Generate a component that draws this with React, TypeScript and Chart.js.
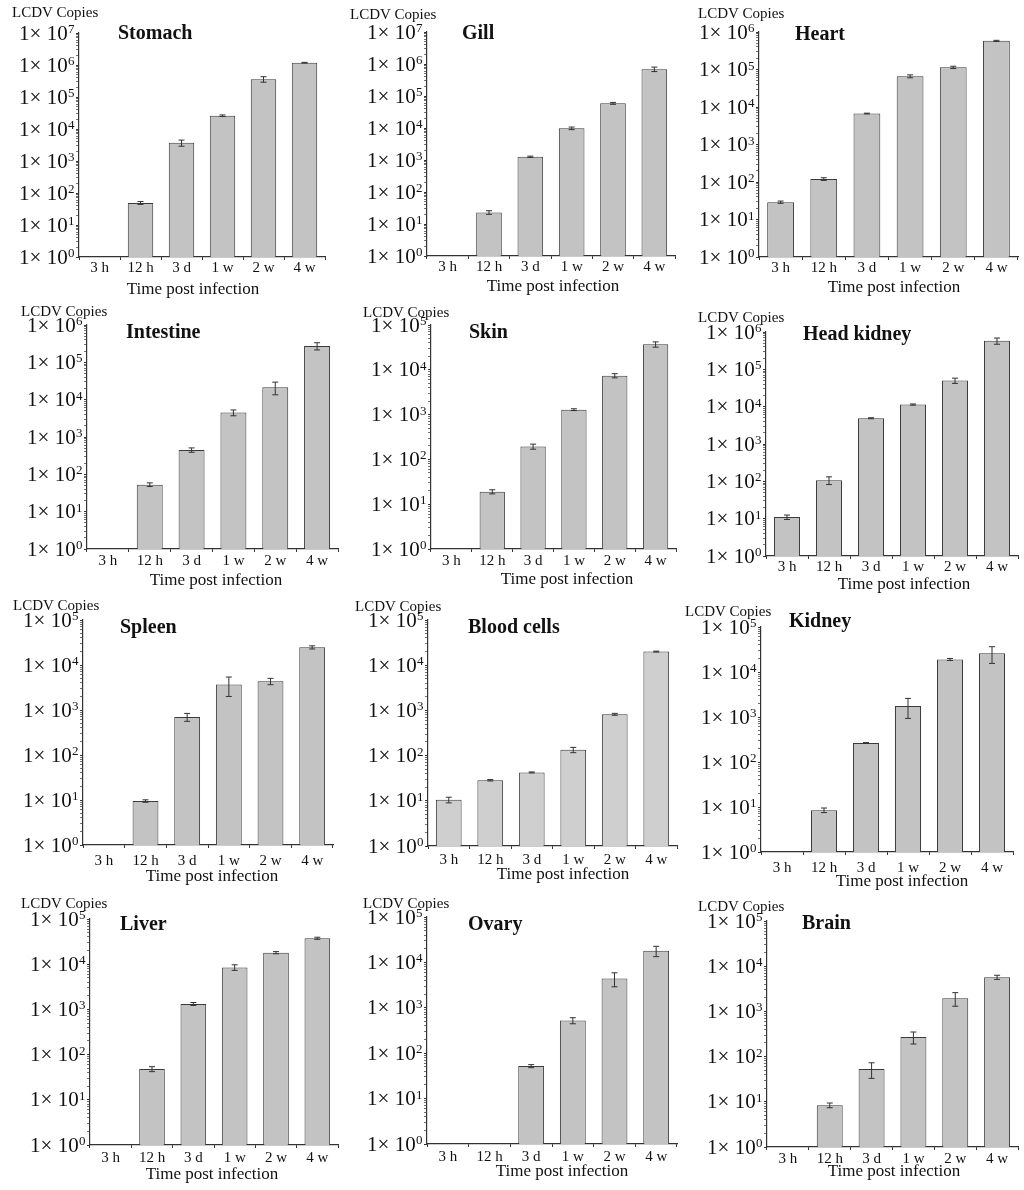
import React, { useEffect, useRef } from 'react';
import { Chart, registerables } from 'chart.js';

Chart.register(...registerables);

// ---------- data ----------
const categories = ['3 h', '12 h', '3 d', '1 w', '2 w', '4 w'];
const tissueNames = ['Stomach', 'Gill', 'Heart', 'Intestine', 'Skin', 'Head kidney', 'Spleen', 'Blood cells', 'Kidney', 'Liver', 'Ovary', 'Brain'];
const yMaxExponents = [7, 7, 6, 6, 5, 6, 5, 5, 5, 5, 5, 5];
const yAxisLabel = 'LCDV Copies';
const xAxisLabel = 'Time post infection';

const stomachMean = [null, 49, 3700, 26000, 360000, 1180000];
const stomachErr = [0, 5, 800, 1500, 70000, 30000];
const gillMean = [null, 23, 1260, 9800, 59000, 690000];
const gillErr = [0, 3, 60, 900, 4000, 110000];
const heartMean = [29, 120, 6700, 66000, 114000, 580000];
const heartErr = [2, 10, 150, 6000, 8000, 20000];
const intestineMean = [null, 53, 450, 4500, 21500, 275000];
const intestineErr = [0, 6, 60, 800, 8000, 60000];
const skinMean = [null, 19, 194, 1290, 7400, 37000];
const skinErr = [0, 2, 25, 60, 800, 5000];
const headKidneyMean = [11, 107, 4900, 11400, 50000, 580000];
const headKidneyErr = [1.5, 25, 150, 400, 8000, 110000];
const spleenMean = [null, 9.5, 700, 3700, 4350, 24700];
const spleenErr = [0, 0.6, 140, 1700, 700, 2000];
const bloodMean = [10.5, 28.5, 42.5, 134, 820, 20000];
const bloodErr = [1.5, 1, 1, 18, 40, 500];
const kidneyMean = [null, 8.5, 265, 1760, 19000, 26000];
const kidneyErr = [0, 1, 5, 830, 1000, 10500];
const liverMean = [null, 48, 1320, 8500, 18000, 37500];
const liverErr = [0, 6, 100, 1200, 1000, 2000];
const ovaryMean = [null, null, 52, 525, 4400, 18000];
const ovaryErr = [0, 0, 4, 80, 1500, 4600];
const brainMean = [null, 8.4, 53, 270, 1950, 5700];
const brainErr = [0, 1, 20, 80, 650, 600];

const means = [stomachMean, gillMean, heartMean, intestineMean, skinMean, headKidneyMean, spleenMean, bloodMean, kidneyMean, liverMean, ovaryMean, brainMean];
const errs = [stomachErr, gillErr, heartErr, intestineErr, skinErr, headKidneyErr, spleenErr, bloodErr, kidneyErr, liverErr, ovaryErr, brainErr];

// ---------- layout & style ----------
const FONT = '"Liberation Serif", "Times New Roman", Times, serif';
const YW = 4;
const XH = 22;

type Layout = {
  box: number[];
  area: number[];
  lcdv: number[];
  title: number[];
  xt: number;
  xx: number[];
  bar: string;
};

const layouts: Layout[] = [
  { box: [0, 0, 340, 298], area: [79, 33, 325, 257], lcdv: [12, 13], title: [118, 34], xt: 11, xx: [193, 33], bar: '#c3c3c3' },
  { box: [340, 0, 340, 298], area: [427, 32, 675, 256], lcdv: [350, 15], title: [462, 34], xt: 11, xx: [553, 31], bar: '#c3c3c3' },
  { box: [680, 0, 344, 298], area: [759, 32, 1018, 257], lcdv: [698, 14], title: [795, 35], xt: 11, xx: [894, 31], bar: '#c3c3c3' },
  { box: [0, 298, 340, 297], area: [87, 325, 338, 549], lcdv: [21, 312], title: [126, 333], xt: 12, xx: [216, 32], bar: '#c3c3c3' },
  { box: [340, 298, 340, 297], area: [431, 325, 676, 549], lcdv: [363, 313], title: [469, 333], xt: 12, xx: [567, 31], bar: '#c3c3c3' },
  { box: [680, 298, 344, 297], area: [766, 332, 1018, 556], lcdv: [698, 318], title: [803, 335], xt: 11, xx: [904, 29], bar: '#c3c3c3' },
  { box: [0, 595, 340, 295], area: [83, 620, 333, 845], lcdv: [13, 606], title: [120, 628], xt: 16, xx: [212, 32], bar: '#c3c3c3' },
  { box: [340, 595, 340, 295], area: [428, 620, 677, 846], lcdv: [355, 607], title: [468, 628], xt: 14, xx: [563, 29], bar: '#cfcfcf' },
  { box: [680, 595, 344, 295], area: [761, 627, 1013, 852], lcdv: [685, 612], title: [789, 622], xt: 16, xx: [902, 30], bar: '#c3c3c3' },
  { box: [0, 890, 340, 300], area: [90, 919, 338, 1145], lcdv: [21, 904], title: [120, 925], xt: 13, xx: [212, 30], bar: '#c3c3c3' },
  { box: [340, 890, 340, 300], area: [427, 917, 677, 1144], lcdv: [363, 904], title: [468, 925], xt: 13, xx: [562, 28], bar: '#c3c3c3' },
  { box: [680, 890, 344, 300], area: [767, 921, 1018, 1147], lcdv: [698, 907], title: [802, 924], xt: 12, xx: [894, 25], bar: '#c3c3c3' },
];

function PanelChart({ idx }: { idx: number }) {
  const ref = useRef<HTMLCanvasElement>(null);
  const L = layouts[idx];
  const [bx, by, bw, bh] = L.box;
  useEffect(() => {
    const mean = means[idx];
    const err = errs[idx];
    const maxExp = yMaxExponents[idx];
    const decor = {
      id: 'decor' + idx,
      afterDatasetsDraw(chart: any) {
        const ctx = chart.ctx;
        const y = chart.scales.y;
        const meta = chart.getDatasetMeta(0);
        ctx.save();
        ctx.strokeStyle = '#333';
        ctx.lineWidth = 1;
        mean.forEach((m: number | null, i: number) => {
          if (m == null) return;
          const e = err[i] || 0;
          const x = meta.data[i].x;
          const yt = y.getPixelForValue(m + e);
          const yb = y.getPixelForValue(Math.max(m - e, 1e-9));
          ctx.beginPath();
          ctx.moveTo(x, yt);
          ctx.lineTo(x, yb);
          ctx.moveTo(x - 3, yt);
          ctx.lineTo(x + 3, yt);
          ctx.moveTo(x - 3, yb);
          ctx.lineTo(x + 3, yb);
          ctx.stroke();
        });
        ctx.restore();
      },
      afterDraw(chart: any) {
        const ctx = chart.ctx;
        const ys = chart.scales.y;
        const ca = chart.chartArea;
        ctx.save();
        ctx.fillStyle = '#111';
        for (let e = 0; e <= maxExp; e++) {
          const py = ys.getPixelForValue(Math.pow(10, e));
          const xr = ca.left - YW - 0.5;
          const expStr = String(e);
          ctx.font = `13px ${FONT}`;
          const ew = ctx.measureText(expStr).width;
          const base = py + 6.5;
          ctx.textBaseline = 'alphabetic';
          ctx.textAlign = 'left';
          ctx.fillText(expStr, xr - ew, base - 6.5);
          ctx.font = `21px ${FONT}`;
          ctx.textAlign = 'right';
          ctx.fillText('1× 10', xr - ew - 0.3, base);
        }
        ctx.textBaseline = 'middle';
        ctx.textAlign = 'left';
        ctx.font = `15px ${FONT}`;
        ctx.fillText(yAxisLabel, L.lcdv[0] - bx, L.lcdv[1] - by);
        ctx.font = `bold 20px ${FONT}`;
        ctx.fillText(tissueNames[idx], L.title[0] - bx, L.title[1] - by);
        ctx.font = `17px ${FONT}`;
        ctx.textAlign = 'center';
        ctx.fillText(xAxisLabel, L.xx[0] - bx, ca.bottom + L.xx[1]);
        ctx.restore();
      },
    };
    const chart = new Chart(ref.current as HTMLCanvasElement, {
      type: 'bar',
      data: {
        labels: categories,
        datasets: [
          {
            data: mean as any,
            backgroundColor: L.bar,
            borderColor: '#3a3a3a',
            borderWidth: 1,
            barPercentage: 0.62,
            categoryPercentage: 1,
          },
        ],
      },
      options: {
        responsive: false,
        animation: false,
        layout: {
          padding: {
            left: L.area[0] - bx - YW,
            top: L.area[1] - by,
            right: bx + bw - L.area[2],
            bottom: by + bh - L.area[3] - XH,
          },
        },
        plugins: { legend: { display: false }, tooltip: { enabled: false }, title: { display: false } },
        scales: {
          x: {
            type: 'category',
            offset: true,
            grid: { offset: true, drawOnChartArea: false, drawTicks: true, tickLength: 3, color: '#333' },
            border: { color: '#333', width: 1.2 },
            ticks: {
              color: '#111',
              font: { family: FONT, size: 15 },
              padding: L.xt - 12,
              maxRotation: 0,
              autoSkip: false,
            },
            afterFit: (s: any) => {
              s.height = XH;
            },
          },
          y: {
            type: 'logarithmic',
            min: 1,
            max: Math.pow(10, maxExp),
            afterBuildTicks: (s: any) => {
              const t: any[] = [];
              for (let e = 0; e < maxExp; e++) {
                for (let m = 1; m <= 9; m++) t.push({ value: m * Math.pow(10, e), major: m === 1 });
              }
              t.push({ value: Math.pow(10, maxExp), major: true });
              s.ticks = t;
            },
            ticks: { display: false },
            grid: {
              drawOnChartArea: false,
              drawTicks: true,
              tickLength: 3,
              color: '#333',
              tickWidth: (c: any) => (c.tick && c.tick.major ? 1.2 : 0.7),
            },
            border: { color: '#333', width: 1.2 },
            afterFit: (s: any) => {
              s.width = YW;
            },
          },
        },
      } as any,
      plugins: [decor],
    });
    return () => chart.destroy();
  }, [idx]);
  return (
    <canvas
      ref={ref}
      width={bw}
      height={bh}
      style={{ position: 'absolute', left: bx, top: by, width: bw, height: bh }}
    />
  );
}

export default function App() {
  return (
    <div style={{ position: 'absolute', left: 0, top: 0, width: 1024, height: 1190, background: '#fff', overflow: 'hidden' }}>
      {layouts.map((_, i) => (
        <PanelChart key={i} idx={i} />
      ))}
    </div>
  );
}
